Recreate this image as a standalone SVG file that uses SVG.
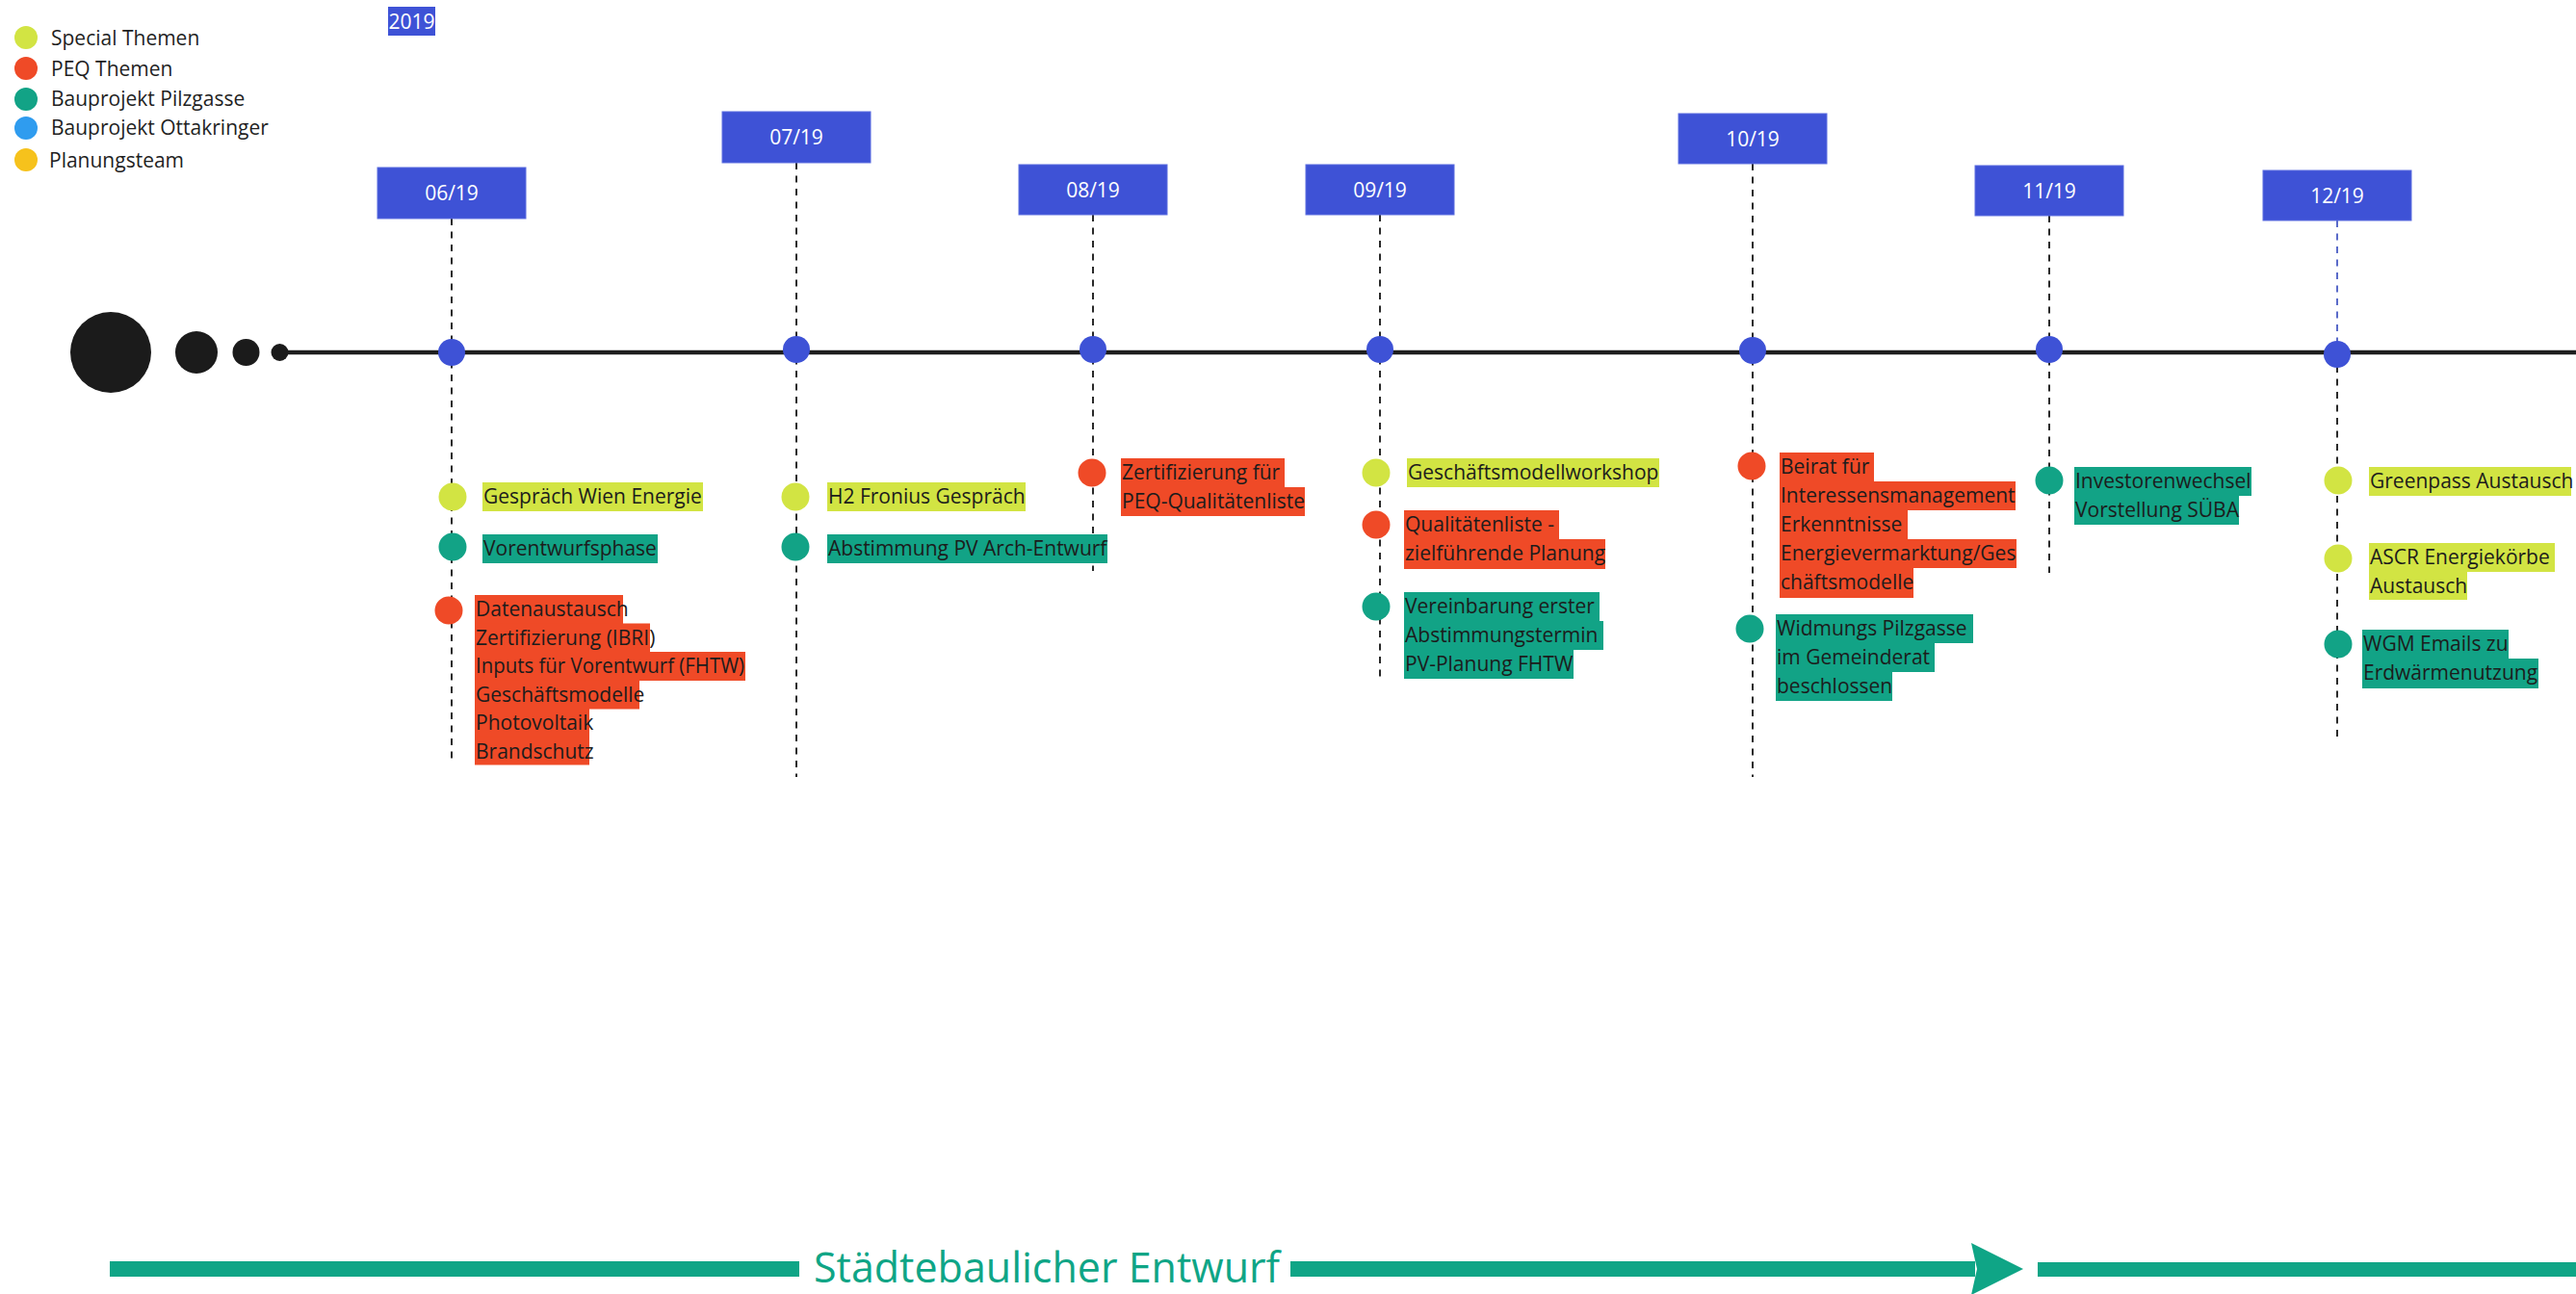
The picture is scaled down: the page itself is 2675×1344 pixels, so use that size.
<svg xmlns="http://www.w3.org/2000/svg" width="2675" height="1344" viewBox="0 0 2675 1344">
  <style>
    text { font-family: "Open Sans", "Noto Sans", "Liberation Sans", sans-serif; }
    .legend { font-size: 21px; fill: #1f1f1f; }
    .month { font-size: 21px; fill: #ffffff; text-anchor: middle; }
    .mbox { fill: #3e52d6; stroke: #5b6de0; stroke-width: 1; }
    .mdot { fill: #3e52d6; }
    .lbl { font-size: 21px; fill: #1c1c1c; }
    .guide { stroke: #2a2a2a; stroke-width: 2; stroke-dasharray: 7 6.5; fill: none; }
    .lime { fill: #d2e443; }
    .red { fill: #ef4a27; }
    .teal { fill: #12a386; }
    .blue { fill: #2f9cef; }
    .yellow { fill: #f6c21c; }
    .phase { fill: #0fa586; }
  </style>

  <rect width="2675" height="1344" fill="#ffffff"/>

  <!-- legend -->
  <g id="legend">
    <circle class="lime" cx="27" cy="39" r="12"/>
    <text class="legend" x="53" y="47">Special Themen</text>
    <circle class="red" cx="27" cy="71" r="12"/>
    <text class="legend" x="53" y="79">PEQ Themen</text>
    <circle class="teal" cx="27" cy="103" r="12"/>
    <text class="legend" x="53" y="110">Bauprojekt Pilzgasse</text>
    <circle class="blue" cx="27" cy="133" r="12"/>
    <text class="legend" x="53" y="140">Bauprojekt Ottakringer</text>
    <circle class="yellow" cx="27" cy="166" r="12"/>
    <text class="legend" x="51" y="174">Planungsteam</text>
  </g>

  <!-- year tag -->
  <g id="year">
    <rect x="403" y="7" width="49" height="30" fill="#3e52d6"/>
    <text x="427.5" y="30" font-size="21" fill="#ffffff" text-anchor="middle">2019</text>
  </g>

  <!-- dashed month guides -->
  <g id="connectors">
    <line class="guide" x1="469" y1="227" x2="469" y2="793"/>
    <line class="guide" x1="827" y1="169" x2="827" y2="807"/>
    <line class="guide" x1="1135" y1="223" x2="1135" y2="593"/>
    <line class="guide" x1="1433" y1="223" x2="1433" y2="703"/>
    <line class="guide" x1="1820" y1="170" x2="1820" y2="807"/>
    <line class="guide" x1="2128" y1="224" x2="2128" y2="595"/>
    <line class="guide" x1="2427" y1="229" x2="2427" y2="355" style="stroke:#5a6bc9"/>
    <line class="guide" x1="2427" y1="380" x2="2427" y2="770"/>
  </g>

  <!-- time axis -->
  <g id="axis">
    <line x1="295" y1="366" x2="2675" y2="366" stroke="#1e1e1e" stroke-width="4.5"/>
    <circle cx="115" cy="366" r="42" fill="#1b1b1b"/>
    <circle cx="204" cy="366" r="22" fill="#1b1b1b"/>
    <circle cx="255.5" cy="366" r="14" fill="#1b1b1b"/>
    <circle cx="290.5" cy="366" r="9" fill="#1b1b1b"/>
  </g>

  <!-- months -->
  <g id="m0619">
    <rect class="mbox" x="392" y="174" width="154" height="53"/>
    <text class="month" x="469" y="208">06/19</text>
    <circle class="mdot" cx="469" cy="366" r="14"/>
  </g>
  <g id="m0719">
    <rect class="mbox" x="750" y="116" width="154" height="53"/>
    <text class="month" x="827" y="150">07/19</text>
    <circle class="mdot" cx="827" cy="363" r="14"/>
  </g>
  <g id="m0819">
    <rect class="mbox" x="1058" y="171" width="154" height="52"/>
    <text class="month" x="1135" y="205">08/19</text>
    <circle class="mdot" cx="1135" cy="363" r="14"/>
  </g>
  <g id="m0919">
    <rect class="mbox" x="1356" y="171" width="154" height="52"/>
    <text class="month" x="1433" y="205">09/19</text>
    <circle class="mdot" cx="1433" cy="363" r="14"/>
  </g>
  <g id="m1019">
    <rect class="mbox" x="1743" y="118" width="154" height="52"/>
    <text class="month" x="1820" y="152">10/19</text>
    <circle class="mdot" cx="1820" cy="364" r="14"/>
  </g>
  <g id="m1119">
    <rect class="mbox" x="2051" y="172" width="154" height="52"/>
    <text class="month" x="2128" y="206">11/19</text>
    <circle class="mdot" cx="2128" cy="363" r="14"/>
  </g>
  <g id="m1219">
    <rect class="mbox" x="2350" y="177" width="154" height="52"/>
    <text class="month" x="2427" y="211">12/19</text>
    <circle class="mdot" cx="2427" cy="368" r="14"/>
  </g>

  <!-- events: June -->
  <g id="e-wien-energie">
    <circle class="lime" cx="470" cy="516" r="14.5"/>
    <rect class="lime" x="501" y="501" width="229" height="30"/>
    <text class="lbl" x="502" y="523">Gespräch Wien Energie</text>
  </g>
  <g id="e-vorentwurf">
    <circle class="teal" cx="470" cy="568" r="14.5"/>
    <rect class="teal" x="501" y="555" width="182" height="30"/>
    <text class="lbl" x="502" y="577">Vorentwurfsphase</text>
  </g>
  <g id="e-datenaustausch">
    <circle class="red" cx="466" cy="634" r="14.5"/>
    <rect class="red" x="493" y="618" width="154" height="30"/>
    <rect class="red" x="493" y="647.5" width="182" height="30"/>
    <rect class="red" x="493" y="677" width="281" height="30"/>
    <rect class="red" x="493" y="706.5" width="171" height="30"/>
    <rect class="red" x="493" y="736" width="119" height="30"/>
    <rect class="red" x="493" y="765.5" width="119" height="29"/>
    <text class="lbl" x="494" y="640">Datenaustausch</text>
    <text class="lbl" x="494" y="669.5">Zertifizierung (IBRI)</text>
    <text class="lbl" x="494" y="699" textLength="279" lengthAdjust="spacingAndGlyphs">Inputs für Vorentwurf (FHTW)</text>
    <text class="lbl" x="494" y="728.5">Geschäftsmodelle</text>
    <text class="lbl" x="494" y="758">Photovoltaik</text>
    <text class="lbl" x="494" y="787.5">Brandschutz</text>
  </g>

  <!-- events: July -->
  <g id="e-fronius">
    <circle class="lime" cx="826" cy="516" r="14.5"/>
    <rect class="lime" x="859" y="501" width="206" height="30"/>
    <text class="lbl" x="860" y="523">H2 Fronius Gespräch</text>
  </g>
  <g id="e-pv-arch">
    <circle class="teal" cx="826" cy="568" r="14.5"/>
    <rect class="teal" x="859" y="555" width="291" height="30"/>
    <text class="lbl" x="860" y="577">Abstimmung PV Arch-Entwurf</text>
  </g>

  <!-- events: August -->
  <g id="e-zertifizierung">
    <circle class="red" cx="1134" cy="491" r="14.5"/>
    <rect class="red" x="1164" y="476" width="170" height="30"/>
    <rect class="red" x="1164" y="506" width="191" height="30"/>
    <text class="lbl" x="1165" y="498">Zertifizierung für</text>
    <text class="lbl" x="1165" y="528">PEQ-Qualitätenliste</text>
  </g>

  <!-- events: September -->
  <g id="e-workshop">
    <circle class="lime" cx="1429" cy="491" r="14.5"/>
    <rect class="lime" x="1461" y="476" width="262" height="30"/>
    <text class="lbl" x="1462" y="498">Geschäftsmodellworkshop</text>
  </g>
  <g id="e-qualitaeten">
    <circle class="red" cx="1429" cy="545" r="14.5"/>
    <rect class="red" x="1458" y="530" width="161" height="30"/>
    <rect class="red" x="1458" y="560" width="209" height="31"/>
    <text class="lbl" x="1459" y="552">Qualitätenliste -</text>
    <text class="lbl" x="1459" y="582">zielführende Planung</text>
  </g>
  <g id="e-pv-planung">
    <circle class="teal" cx="1429" cy="630" r="14.5"/>
    <rect class="teal" x="1458" y="615" width="203" height="30"/>
    <rect class="teal" x="1458" y="645" width="207" height="30"/>
    <rect class="teal" x="1458" y="675" width="176" height="30"/>
    <text class="lbl" x="1459" y="637">Vereinbarung erster</text>
    <text class="lbl" x="1459" y="667">Abstimmungstermin</text>
    <text class="lbl" x="1459" y="697">PV-Planung FHTW</text>
  </g>

  <!-- events: October -->
  <g id="e-beirat">
    <circle class="red" cx="1819" cy="484" r="14.5"/>
    <rect class="red" x="1848" y="470" width="98" height="30"/>
    <rect class="red" x="1848" y="500" width="245" height="30"/>
    <rect class="red" x="1848" y="530" width="133" height="30"/>
    <rect class="red" x="1848" y="560" width="246" height="30"/>
    <rect class="red" x="1848" y="590" width="139" height="31"/>
    <text class="lbl" x="1849" y="492">Beirat für</text>
    <text class="lbl" x="1849" y="522">Interessensmanagement</text>
    <text class="lbl" x="1849" y="552">Erkenntnisse</text>
    <text class="lbl" x="1849" y="582">Energievermarktung/Ges</text>
    <text class="lbl" x="1849" y="612">chäftsmodelle</text>
  </g>
  <g id="e-widmung">
    <circle class="teal" cx="1817" cy="653" r="14.5"/>
    <rect class="teal" x="1844" y="638" width="205" height="30"/>
    <rect class="teal" x="1844" y="668" width="165" height="30"/>
    <rect class="teal" x="1844" y="698" width="121" height="30"/>
    <text class="lbl" x="1845" y="660">Widmungs Pilzgasse</text>
    <text class="lbl" x="1845" y="690">im Gemeinderat</text>
    <text class="lbl" x="1845" y="720">beschlossen</text>
  </g>

  <!-- events: November -->
  <g id="e-investoren">
    <circle class="teal" cx="2128" cy="499" r="14.5"/>
    <rect class="teal" x="2154" y="485" width="184" height="30"/>
    <rect class="teal" x="2154" y="515" width="171" height="30"/>
    <text class="lbl" x="2155" y="507">Investorenwechsel</text>
    <text class="lbl" x="2155" y="537">Vorstellung SÜBA</text>
  </g>

  <!-- events: December -->
  <g id="e-greenpass">
    <circle class="lime" cx="2428" cy="499" r="14.5"/>
    <rect class="lime" x="2460" y="485" width="210" height="30"/>
    <text class="lbl" x="2461" y="507">Greenpass Austausch</text>
  </g>
  <g id="e-ascr">
    <circle class="lime" cx="2428" cy="580" r="14.5"/>
    <rect class="lime" x="2460" y="564" width="193" height="30"/>
    <rect class="lime" x="2460" y="594" width="102" height="29"/>
    <text class="lbl" x="2461" y="586">ASCR Energiekörbe</text>
    <text class="lbl" x="2461" y="616">Austausch</text>
  </g>
  <g id="e-wgm">
    <circle class="teal" cx="2428" cy="669" r="14.5"/>
    <rect class="teal" x="2453" y="654" width="152" height="30"/>
    <rect class="teal" x="2453" y="684" width="183" height="31"/>
    <text class="lbl" x="2454" y="676">WGM Emails zu</text>
    <text class="lbl" x="2454" y="706">Erdwärmenutzung</text>
  </g>

  <!-- phase arrow -->
  <g id="phase">
    <rect class="phase" x="114" y="1310" width="716" height="16"/>
    <text x="845" y="1332" font-size="43" fill="#0fa586">Städtebaulicher Entwurf</text>
    <rect class="phase" x="1340" y="1310" width="711" height="16"/>
    <polygon class="phase" points="2047,1291 2101,1318 2047,1345 2053,1318"/>
    <rect class="phase" x="2116" y="1311" width="559" height="15"/>
  </g>
</svg>
